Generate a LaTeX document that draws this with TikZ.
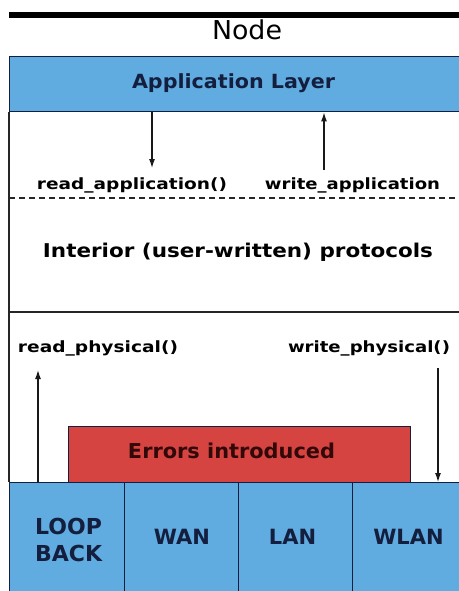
\documentclass[tikz,border=0pt]{standalone}
\usepackage{fontspec}
\setmainfont{DejaVu Sans}
\usepackage{graphicx}
\usetikzlibrary{arrows.meta}

\definecolor{layerblue}{RGB}{96,172,224}
\definecolor{errred}{RGB}{214,68,66}
\definecolor{navy}{RGB}{20,30,62}
\definecolor{darkred}{RGB}{50,8,8}

% set a text at a given width, keeping its natural height
\newcommand{\fitw}[2]{\resizebox{#1}{\height}{#2}}

\begin{document}
\begin{tikzpicture}[x=1pt,y=-1pt,
  box/.style={draw=navy, line width=1.4pt, inner sep=0pt, anchor=north west},
  txt/.style={anchor=base, inner sep=0pt},
  lbl/.style={txt, font=\bfseries\fontsize{15.5}{18}\selectfont},
  big/.style={txt, font=\bfseries\fontsize{21}{27}\selectfont, text=navy},
  frame/.style={line width=1.4pt, draw=black!85},
  flow/.style={line width=1.2pt, draw=black!90, -{Latex[length=9pt,width=6pt]}}]
\useasboundingbox (0,0) rectangle (458,591);

% heading bar and title
\fill (9,12) rectangle (462,18);
\node[txt, font=\fontsize{26}{30}\selectfont] (title) at (247,40) {\fitw{70pt}{Node}};

% application layer
\node[box, fill=layerblue, minimum width=460pt, minimum height=55pt] (app) at (9,56) {};
\node[txt, font=\bfseries\fontsize{19.5}{23}\selectfont, text=navy] (applbl) at (233.5,89)
  {\fitw{203pt}{Application Layer}};

% body of the node: left side, dashed divider, protocol boundary
\coordinate (bl) at (9,482);
\draw[frame] (app.south west) -- (bl);
\draw[line width=1.3pt, draw=black!85, dash pattern=on 6pt off 4pt] (9,198) -- (462,198);
\draw[frame] (9,312) -- (462,312);

\node[lbl] (rdapp) at (132,189) {\fitw{190pt}{read\_application()}};
\node[lbl] (wrapp) at (352.5,189) {\fitw{175pt}{write\_application}};

\node[txt, font=\bfseries\fontsize{19}{22}\selectfont] (interior) at (238,257)
  {\fitw{390pt}{Interior (user-written) protocols}};

\node[lbl] (rdphy) at (98,352) {\fitw{160pt}{read\_physical()}};
\node[lbl] (wrphy) at (369,352) {\fitw{162pt}{write\_physical()}};

% error box
\node[box, line width=1pt, fill=errred, minimum width=342pt, minimum height=56pt] (err) at (68,426) {};
\node[txt, font=\bfseries\fontsize{20.5}{24}\selectfont, text=darkred] (errlbl) at (231.5,458)
  {\fitw{207pt}{Errors introduced}};

% physical links
\node[box, fill=layerblue, minimum width=115pt, minimum height=115pt] (loop) at (9,482) {};
\node[box, fill=layerblue, minimum width=114pt, minimum height=115pt] (wan) at (124,482) {};
\node[box, fill=layerblue, minimum width=114pt, minimum height=115pt] (lan) at (238,482) {};
\node[box, fill=layerblue, minimum width=114pt, minimum height=115pt] (wlan) at (352,482) {};

\node[txt, anchor=west, align=left, font=\bfseries\fontsize{22}{27}\selectfont, text=navy]
  (looplbl) at (35,540) {LOOP\\BACK};
\node[big] (wanlbl) at (182,544) {WAN};
\node[big] (lanlbl) at (292.5,544) {LAN};
\node[big] (wlanlbl) at (408.5,544) {WLAN};

% calls between the layers
\coordinate (ra) at (152,168);
\coordinate (wa) at (324,170);
\coordinate (rp) at (38,370);
\coordinate (wp) at (438,368);
\draw[flow] (app.south -| ra) -- (ra);
\draw[flow] (wa) -- (app.south -| wa);
\draw[flow] (loop.north -| rp) -- (rp);
\draw[flow] (wp) -- (wlan.north -| wp);
\end{tikzpicture}
\end{document}
